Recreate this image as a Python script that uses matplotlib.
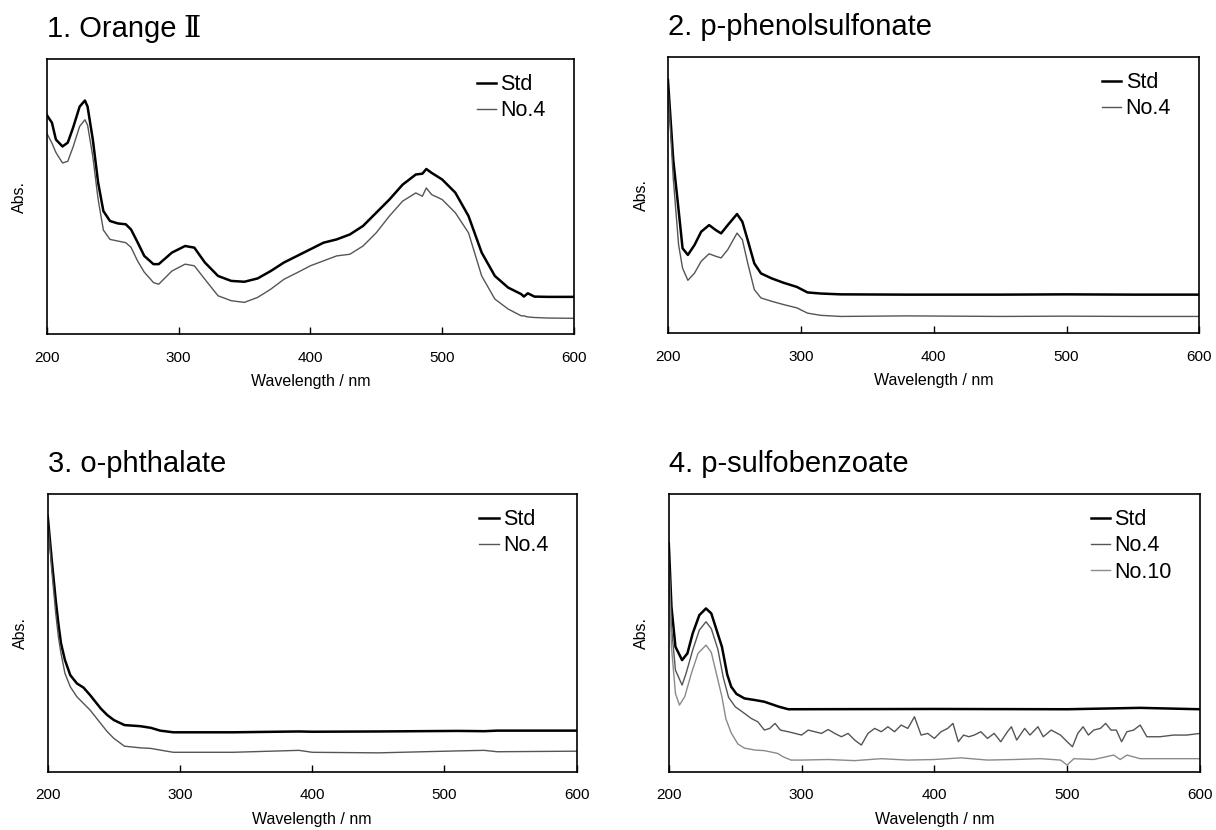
import matplotlib
matplotlib.use('Agg')
import matplotlib.pyplot as plt

plt.rcParams['font.family'] = ['Liberation Sans', 'DejaVu Sans']

# 1. Orange II
orange_wl = [200, 204, 207, 212, 216, 220, 225, 229, 231, 235, 239, 243, 248, 254, 260, 264, 269, 274, 281,
             285, 295, 305, 312, 320, 330, 340, 350, 360, 370, 380, 390, 400, 410, 420, 430, 440, 450, 460,
             470, 480, 485, 488, 492, 500, 510, 520, 530, 540, 550, 560, 562, 565, 570, 580, 600]
orange_std = [0.797, 0.768, 0.707, 0.682, 0.696, 0.750, 0.827, 0.849, 0.827, 0.707, 0.551, 0.447, 0.411, 0.402,
              0.399, 0.380, 0.333, 0.284, 0.254, 0.254, 0.296, 0.320, 0.314, 0.260, 0.211, 0.193, 0.190, 0.202,
              0.229, 0.260, 0.284, 0.308, 0.332, 0.344, 0.362, 0.393, 0.441, 0.489, 0.543, 0.580, 0.583, 0.600,
              0.586, 0.562, 0.514, 0.429, 0.296, 0.211, 0.169, 0.145, 0.136, 0.148, 0.136, 0.135, 0.135]
orange_no4 = [0.731, 0.694, 0.660, 0.622, 0.628, 0.680, 0.755, 0.779, 0.760, 0.645, 0.490, 0.378, 0.344, 0.338,
              0.332, 0.315, 0.265, 0.225, 0.187, 0.181, 0.229, 0.254, 0.248, 0.199, 0.139, 0.121, 0.115, 0.133,
              0.163, 0.199, 0.223, 0.248, 0.266, 0.284, 0.290, 0.320, 0.368, 0.429, 0.483, 0.513, 0.501, 0.531,
              0.507, 0.489, 0.441, 0.368, 0.211, 0.127, 0.091, 0.066, 0.066, 0.062, 0.060, 0.058, 0.057]

# 2. p-phenolsulfonate
phenol_wl = [200, 204, 208, 211, 215, 220, 225, 231, 236, 240, 245, 252, 256, 260, 265, 270, 278, 287, 297,
             305, 315, 330, 380, 450, 500, 550, 600]
phenol_std = [0.917, 0.627, 0.446, 0.307, 0.283, 0.319, 0.367, 0.391, 0.373, 0.361, 0.391, 0.431, 0.403, 0.337,
              0.252, 0.216, 0.198, 0.182, 0.167, 0.147, 0.143, 0.140, 0.139, 0.139, 0.140, 0.139, 0.139]
phenol_no4 = [0.894, 0.560, 0.320, 0.235, 0.191, 0.217, 0.260, 0.287, 0.278, 0.272, 0.302, 0.362, 0.338, 0.254,
              0.157, 0.127, 0.115, 0.103, 0.091, 0.072, 0.064, 0.060, 0.062, 0.060, 0.061, 0.060, 0.060]

# 3. o-phthalate
phthal_wl = [200, 203, 206, 208, 210, 213, 217, 222, 227, 232, 240, 245, 250, 258, 270, 278, 285, 295, 340,
             390, 400, 450, 510, 530, 540, 600]
phthal_std = [0.918, 0.762, 0.618, 0.534, 0.462, 0.402, 0.348, 0.318, 0.303, 0.276, 0.228, 0.204, 0.186, 0.168,
              0.164, 0.158, 0.148, 0.142, 0.142, 0.145, 0.144, 0.145, 0.147, 0.146, 0.148, 0.148]
phthal_no4 = [0.906, 0.726, 0.570, 0.486, 0.426, 0.354, 0.306, 0.270, 0.246, 0.222, 0.174, 0.144, 0.120, 0.092,
              0.086, 0.084, 0.078, 0.070, 0.070, 0.077, 0.070, 0.068, 0.075, 0.077, 0.072, 0.074]

# 4. p-sulfobenzoate
sulfo_wl_std = [200, 202, 205, 210, 214, 218, 223, 228, 232, 236, 240, 244, 247, 251, 257, 265, 272, 283, 290,
                400, 500, 555, 600]
sulfo_std = [0.822, 0.594, 0.450, 0.402, 0.426, 0.498, 0.564, 0.588, 0.570, 0.510, 0.450, 0.350, 0.306, 0.280,
             0.264, 0.258, 0.252, 0.234, 0.225, 0.226, 0.225, 0.230, 0.225]
sulfo_wl_no4 = [200, 202, 205, 210, 213, 218, 223, 228, 232, 237, 241, 245, 250, 257, 262, 267, 272, 276, 280,
                284, 290, 300, 305, 310, 315, 320, 325, 330, 335, 340, 345, 350, 355, 360, 365, 370, 375, 380,
                385, 390, 395, 400, 405, 410, 414, 418, 422, 426, 430, 435, 440, 445, 450, 455, 458, 462, 468,
                472, 478, 482, 488, 495, 500, 504, 508, 512, 516, 520, 525, 529, 533, 537, 541, 545, 550, 555,
                560, 570, 580, 590, 600]
sulfo_no4 = [0.786, 0.522, 0.366, 0.312, 0.354, 0.438, 0.510, 0.540, 0.515, 0.440, 0.340, 0.268, 0.234, 0.210,
             0.192, 0.180, 0.150, 0.156, 0.174, 0.150, 0.144, 0.132, 0.150, 0.144, 0.138, 0.152, 0.138, 0.126,
             0.138, 0.114, 0.096, 0.138, 0.156, 0.144, 0.162, 0.144, 0.168, 0.156, 0.198, 0.132, 0.138, 0.120,
             0.144, 0.156, 0.174, 0.108, 0.132, 0.126, 0.132, 0.144, 0.120, 0.138, 0.108, 0.144, 0.162, 0.114,
             0.156, 0.132, 0.162, 0.126, 0.150, 0.132, 0.108, 0.090, 0.138, 0.162, 0.132, 0.150, 0.156, 0.174,
             0.150, 0.150, 0.108, 0.144, 0.150, 0.168, 0.126, 0.126, 0.132, 0.132, 0.138]
sulfo_wl_no10 = [200, 202, 205, 208, 212, 217, 222, 228, 232, 236, 240, 243, 247, 252, 257, 265, 272, 282, 286,
                 292, 300, 320, 340, 360, 380, 400, 420, 440, 460, 480, 495, 500, 505, 520, 535, 540, 545, 555,
                 580, 600]
sulfo_no10 = [0.774, 0.450, 0.282, 0.240, 0.270, 0.354, 0.426, 0.456, 0.430, 0.350, 0.270, 0.190, 0.140, 0.100,
              0.085, 0.078, 0.076, 0.066, 0.054, 0.042, 0.042, 0.044, 0.040, 0.047, 0.042, 0.044, 0.050, 0.042,
              0.044, 0.047, 0.042, 0.024, 0.047, 0.044, 0.060, 0.044, 0.060, 0.047, 0.047, 0.047]

titles = ['1. Orange', '2. p-phenolsulfonate', '3. o-phthalate', '4. p-sulfobenzoate']
xticks = [200, 300, 400, 500, 600]

fig = plt.figure(figsize=(12.16, 8.30), dpi=100)
rects = [[0.0384, 0.5976, 0.4336, 0.3313],
         [0.5493, 0.5988, 0.4371, 0.3325],
         [0.0393, 0.0702, 0.4349, 0.3346],
         [0.5500, 0.0702, 0.4368, 0.3346]]
axes = [fig.add_axes(r) for r in rects]

series = [
    [(orange_wl, orange_std, 'Std'), (orange_wl, orange_no4, 'No.4')],
    [(phenol_wl, phenol_std, 'Std'), (phenol_wl, phenol_no4, 'No.4')],
    [(phthal_wl, phthal_std, 'Std'), (phthal_wl, phthal_no4, 'No.4')],
    [(sulfo_wl_std, sulfo_std, 'Std'), (sulfo_wl_no4, sulfo_no4, 'No.4'), (sulfo_wl_no10, sulfo_no10, 'No.10')],
]
styles = {'Std': dict(color='black', lw=1.8),
          'No.4': dict(color='#555555', lw=1.0),
          'No.10': dict(color='#8a8a8a', lw=1.0)}

for i, (ax, title, ser) in enumerate(zip(axes, titles, series)):
    for x, y, lab in ser:
        ax.plot(x, y, label=lab, **styles[lab])
    ax.set_xlim(200, 600)
    ax.set_ylim(0, 1)
    ax.set_xticks(xticks)
    ax.set_yticks([])
    ax.tick_params(axis='x', direction='in', length=5, width=1, pad=12, labelsize=11)
    for s in ax.spines.values():
        s.set_linewidth(1.2)
    ax.set_xlabel('Wavelength / nm', fontsize=11.5, labelpad=7)
    ax.set_ylabel('Abs.', fontsize=11.5, labelpad=14)
    t = ax.set_title(title, loc='left', fontsize=21, pad=16)
    if i == 0:
        # roman numeral II with the serif bars, like the original
        ax.annotate('\u2161', xy=(1, 1), xycoords=(t, 'axes fraction'), xytext=(5, 16),
                    textcoords='offset points', va='baseline', ha='left', fontsize=21,
                    family=['Liberation Serif', 'DejaVu Serif'])
    ax.legend(loc='upper right', bbox_to_anchor=(0.975, 1.0), frameon=False, fontsize=15.5,
              handlelength=0.9, handletextpad=0.2, labelspacing=0.25, borderaxespad=0.3)

fig.savefig('out.png', dpi=100)
